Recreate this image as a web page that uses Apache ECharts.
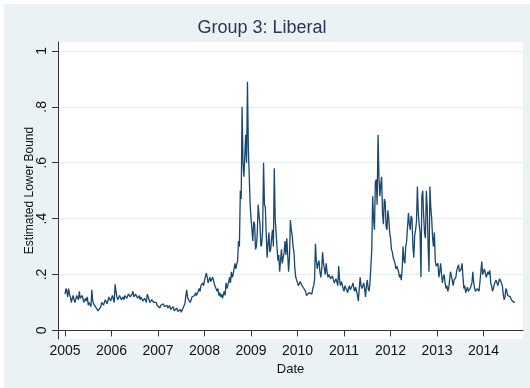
<!DOCTYPE html>
<html>
<head>
<meta charset="utf-8">
<script src="https://cdn.jsdelivr.net/npm/echarts@6/dist/echarts.min.js"></script>
<style>
  html, body { margin: 0; padding: 0; background: #ffffff; }
  #chart { width: 530px; height: 388px; }
</style>
</head>
<body>
<div id="chart"></div>
<script>
// Estimated lower bound, weekly readings (52 per year; 2014 runs to early September)
const stepsPerYear = 52;
const y2005 = [.13,.15,.14,.12,.15,.13,.12,.10, .105,.125,.12,.10,.11,.125,.125,.11, .14,.115,.11,.125,.115,.10,.10,.115, .105,.12,.09,.10,.10,.085,.145,.105, .095,.10,.085,.09,.08,.07,.068,.075, .085,.10,.10,.09,.095,.11,.11,.095, .10,.12,.115,.105];
const y2006 = [.11,.125,.12,.10,.165,.14,.12,.11, .11,.125,.125,.11,.115,.12,.11,.125, .13,.115,.12,.13,.135,.12,.125,.13, .14,.12,.12,.13,.125,.115,.115,.125, .11,.12,.12,.105,.105,.115,.115,.10, .13,.12,.11,.10,.10,.11,.105,.10, .095,.105,.10,.09];
const y2007 = [.09,.085,.08,.09,.085,.095,.095,.085, .08,.09,.09,.08,.085,.09,.075,.08, .08,.085,.07,.075,.075,.08,.068,.07, .072,.075,.065,.07,.08,.075,.095,.09, .145,.12,.11,.105,.10,.11,.12,.115, .115,.125,.135,.125,.125,.14,.15,.14, .16,.155,.17,.16];
const y2008 = [.18,.175,.205,.19,.17,.18,.19,.175, .175,.19,.18,.165,.16,.17,.14,.15, .125,.135,.12,.13,.115,.12,.14,.125, .17,.15,.16,.175,.19,.17,.21,.19, .20,.22,.24,.22,.22,.25,.32,.30, .50,.47,.80,.60,.55,.62,.70,.60, .89,.65,.55,.45];
const y2009 = [.40,.36,.32,.39,.38,.29,.30,.35, .45,.41,.38,.30,.31,.36,.60,.45, .44,.34,.26,.31,.35,.28,.29,.33, .36,.30,.58,.40,.35,.30,.25,.27, .21,.25,.29,.24,.24,.28,.32,.27, .33,.27,.21,.26,.395,.36,.34,.30, .28,.22,.19,.18];
const y2010 = [.17,.16,.155,.175,.18,.16,.16,.15, .15,.14,.125,.13,.12,.135,.14,.13, .13,.15,.16,.18,.31,.25,.22,.24, .25,.21,.19,.22,.28,.24,.22,.20, .24,.21,.19,.20,.205,.185,.18,.195, .19,.17,.17,.185,.18,.16,.23,.18, .16,.175,.17,.15];
const y2011 = [.14,.16,.165,.145,.135,.15,.16,.145, .145,.16,.17,.15,.14,.155,.15,.125, .105,.15,.19,.16,.15,.16,.17,.15, .12,.16,.18,.15,.14,.17,.165,.29, .48,.40,.36,.53,.54,.45,.70,.55, .48,.52,.55,.42,.38,.47,.46,.37, .36,.43,.40,.35];
const y2012 = [.33,.29,.28,.26,.25,.24,.22,.23, .23,.21,.19,.20,.18,.22,.30,.25, .24,.30,.32,.37,.42,.38,.36,.41, .40,.30,.26,.34,.36,.39,.515,.42, .38,.35,.19,.48,.50,.41,.35,.33, .50,.44,.30,.21,.515,.44,.40,.33, .30,.35,.25,.23];
const y2013 = [.23,.24,.19,.21,.24,.20,.17,.19, .20,.17,.15,.16,.14,.15,.18,.21, .21,.18,.16,.18,.175,.19,.215,.22, .235,.21,.205,.22,.24,.19,.15,.16, .135,.145,.155,.14,.14,.15,.16,.17, .21,.17,.15,.14,.135,.15,.15,.14, .14,.145,.246,.20];
const y2014 = [.20,.22,.215,.19,.19,.21,.20,.215, .17,.16,.14,.15,.165,.17,.18,.17, .16,.175,.185,.18,.17,.16,.13,.11, .12,.15,.14,.125,.12,.13,.12,.11, .115,.105,.10,.10];

const years = [2005, 2006, 2007, 2008, 2009, 2010, 2011, 2012, 2013, 2014];
const yearValues = [y2005, y2006, y2007, y2008, y2009, y2010, y2011, y2012, y2013, y2014];

const xTicks = [2005, 2006, 2007, 2008, 2009, 2010, 2011, 2012, 2013, 2014];
const yTicks = [0, 0.2, 0.4, 0.6, 0.8, 1];

const seriesData = [];
years.forEach((yr, k) => {
  yearValues[k].forEach((v, j) => seriesData.push([yr + j / stepsPerYear, v]));
});

const FONT = 'Liberation Sans, Arial, Helvetica, sans-serif';
const chart = echarts.init(document.getElementById('chart'), null, { renderer: 'canvas' });

chart.setOption({
  animation: false,
  backgroundColor: '#ffffff',
  graphic: [
    { type: 'rect', z: -10, silent: true, shape: { x: 4, y: 4, width: 526, height: 384 },
      style: { fill: '#EAF2F3' } },
    { type: 'text', z: 10, x: 262, y: 28, silent: true,
      style: { text: 'Group 3: Liberal', font: '18px ' + FONT, fill: '#2A3655',
               textAlign: 'center', textVerticalAlign: 'middle' } }
  ],
  grid: {
    left: 58, right: 7, top: 42, bottom: 49,
    show: true, backgroundColor: '#ffffff', borderWidth: 0
  },
  xAxis: {
    type: 'value',
    min: 2004.849, max: 2014.848,
    name: 'Date', nameLocation: 'middle', nameGap: 20,
    nameTextStyle: { fontFamily: FONT, fontSize: 13, color: '#111' },
    axisLine: { show: true, lineStyle: { color: '#333', width: 1 } },
    axisTick: { show: true, length: 6, customValues: xTicks, lineStyle: { color: '#333' } },
    axisLabel: { customValues: xTicks, margin: 5, fontFamily: FONT, fontSize: 14, color: '#111',
                 formatter: v => String(Math.round(v)) },
    splitLine: { show: false }
  },
  yAxis: {
    type: 'value',
    min: -0.0307, max: 1.032,
    name: 'Estimated Lower Bound', nameLocation: 'middle', nameGap: 22, nameMoveOverlap: false,
    nameTextStyle: { fontFamily: FONT, fontSize: 12, color: '#111' },
    axisLine: { show: true, lineStyle: { color: '#333', width: 1 } },
    axisTick: { show: true, length: 6, customValues: yTicks, lineStyle: { color: '#333' } },
    axisLabel: { customValues: yTicks, rotate: 90, margin: 9, fontFamily: FONT, fontSize: 14, color: '#111',
                 formatter: v => (v === 0 ? '0' : v === 1 ? '1' : String(+v.toFixed(1)).replace(/^0/, '')) },
    splitLine: { show: true, lineStyle: { color: '#E6EEF0', width: 1 } }
  },
  series: [{
    type: 'line',
    data: seriesData,
    showSymbol: false,
    lineStyle: { color: '#1A476F', width: 1.3 },
    itemStyle: { color: '#1A476F' }
  }]
});
</script>
</body>
</html>
